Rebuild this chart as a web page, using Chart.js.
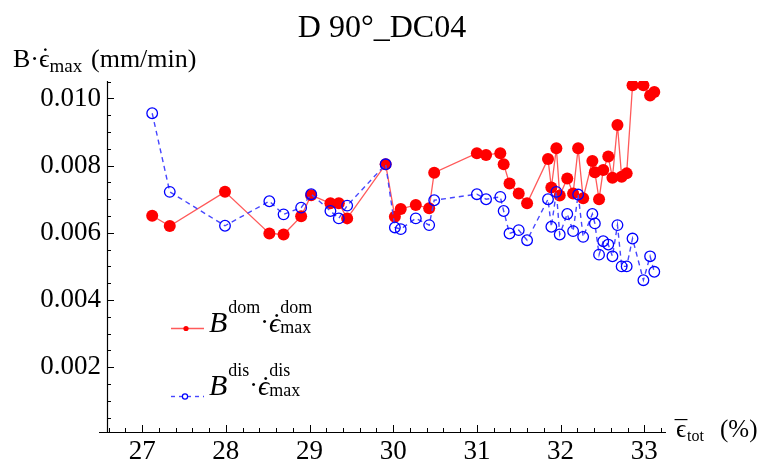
<!DOCTYPE html>
<html>
<head>
<meta charset="utf-8">
<script src="https://cdn.jsdelivr.net/npm/chart.js@4.4.1/dist/chart.umd.min.js"></script>
<style>
html,body{margin:0;padding:0;background:#fff;}
canvas{display:block;}
</style>
</head>
<body>
<canvas id="c" width="761" height="466"></canvas>
<script>
// ---- data ----
const strainValues = [27.12, 27.33, 27.99, 28.52, 28.69, 28.90, 29.02, 29.25, 29.35, 29.45,
  29.91, 30.02, 30.09, 30.27, 30.43, 30.49, 31.00, 31.11, 31.28, 31.32,
  31.39, 31.50, 31.60, 31.85, 31.89, 31.95, 31.99, 32.08, 32.15, 32.21,
  32.27, 32.38, 32.41, 32.46, 32.51, 32.57, 32.62, 32.68, 32.73, 32.79,
  32.86, 32.99, 33.07, 33.12];
const domValues = [0.00651, 0.00620, 0.00722, 0.00598, 0.00595, 0.00649, 0.00712, 0.00688, 0.00688, 0.00643,
  0.00804, 0.00648, 0.00671, 0.00683, 0.00673, 0.00779, 0.00837, 0.00832, 0.00837, 0.00804,
  0.00747, 0.00717, 0.00688, 0.00820, 0.00735, 0.00852, 0.00711, 0.00762, 0.00717, 0.00852,
  0.00703, 0.00814, 0.00780, 0.00700, 0.00787, 0.00827, 0.00764, 0.00921, 0.00767, 0.00777,
  0.01039, 0.01039, 0.01009, 0.01019];
const disValues = [0.00956, 0.00722, 0.00621, 0.00694, 0.00655, 0.00675, 0.00715, 0.00665, 0.00643, 0.00681,
  0.00804, 0.00616, 0.00611, 0.00643, 0.00623, 0.00697, 0.00715, 0.00700, 0.00707, 0.00665,
  0.00598, 0.00608, 0.00578, 0.00700, 0.00618, 0.00722, 0.00595, 0.00656, 0.00605, 0.00714,
  0.00588, 0.00656, 0.00628, 0.00535, 0.00575, 0.00565, 0.00530, 0.00623, 0.00500, 0.00500,
  0.00583, 0.00459, 0.00530, 0.00484];
const xTicks = [27, 28, 29, 30, 31, 32, 33];
const yTicks = [0.002, 0.004, 0.006, 0.008, 0.010];
const titleText = "D 90°_DC04";

const SERIF = "'Liberation Serif', 'DejaVu Serif', serif";

function pts(vals) { return strainValues.map((x, i) => ({ x: x, y: vals[i] })); }

function drawDotAbove(ctx, x, w, baseline, size, ch) {
  const f = ctx.font;
  ctx.font = size + "px " + SERIF;
  ctx.textAlign = "center";
  ctx.fillText(ch, x + w / 2 + 1, baseline);
  ctx.textAlign = "left";
  ctx.font = f;
}

const decorPlugin = {
  id: "decor",
  afterDraw(chart) {
    const ctx = chart.ctx;
    const a = chart.chartArea;
    const xs = chart.scales.x, ys = chart.scales.y;
    ctx.save();
    ctx.strokeStyle = "#000";
    ctx.fillStyle = "#000";
    // axes
    ctx.lineWidth = 1.2;
    ctx.beginPath();
    ctx.moveTo(a.left - 8, a.bottom + 0.5); ctx.lineTo(a.right, a.bottom + 0.5);
    ctx.moveTo(a.left + 0.5, a.top); ctx.lineTo(a.left + 0.5, a.bottom);
    ctx.stroke();
    // ticks
    ctx.lineWidth = 1;
    ctx.beginPath();
    for (let k = Math.ceil(xs.min * 5); k <= Math.floor(xs.max * 5); k++) {
      const v = k / 5;
      const px = Math.round(xs.getPixelForValue(v)) + 0.5;
      const len = (k % 5 === 0) ? 7 : 4;
      ctx.moveTo(px, a.bottom); ctx.lineTo(px, a.bottom - len);
    }
    for (let k = Math.ceil(ys.min / 0.0005); k <= Math.floor(ys.max / 0.0005 + 1e-9); k++) {
      const v = k * 0.0005;
      const py = Math.round(ys.getPixelForValue(v)) + 0.5;
      const len = (k % 4 === 0) ? 7 : 4;
      ctx.moveTo(a.left, py); ctx.lineTo(a.left + len, py);
    }
    ctx.stroke();

    ctx.textBaseline = "alphabetic";
    ctx.textAlign = "left";
    // title
    ctx.font = "32px " + SERIF;
    ctx.textAlign = "center";
    ctx.fillText(titleText, 382, 37);
    ctx.textAlign = "left";

    // y-axis label
    let x = 13, b = 67;
    ctx.font = "26px " + SERIF;
    ctx.fillText("B", x, b); x += ctx.measureText("B").width;
    ctx.fillText("\u00B7", x, b); x += ctx.measureText("\u00B7").width;
    ctx.fillText("\u03F5", x, b);
    let ew = ctx.measureText("\u03F5").width;
    drawDotAbove(ctx, x, ew, b - 2, 26, "\u02D9");
    x += ew;
    ctx.font = "19px " + SERIF;
    ctx.fillText("max", x, b + 5);
    ctx.font = "26px " + SERIF;
    ctx.fillText("(mm/min)", 91, b);

    // x-axis label
    x = 676; b = 437;
    ctx.font = "25px " + SERIF;
    ctx.fillText("\u03F5", x, b);
    ew = ctx.measureText("\u03F5").width;
    drawDotAbove(ctx, x - 1, ew, b + 1, 25, "\u00AF");
    x += ew + 1;
    ctx.font = "16px " + SERIF;
    ctx.fillText("tot", x, b + 4);
    ctx.font = "25px " + SERIF;
    ctx.fillText("(%)", 720, b);

    // legend
    function legendText(x, b, sup) {
      ctx.font = "italic 30px " + SERIF;
      ctx.fillText("B", x, b); x += ctx.measureText("B").width + 1;
      ctx.font = "18px " + SERIF;
      ctx.fillText(sup, x, b - 19); x += ctx.measureText(sup).width;
      ctx.font = "26px " + SERIF;
      ctx.fillText("\u00B7", x, b - 2); x += ctx.measureText("\u00B7").width;
      ctx.font = "italic 28px " + SERIF;
      ctx.fillText("\u03F5", x, b);
      const w = ctx.measureText("\u03F5").width;
      drawDotAbove(ctx, x + 1, w, b, 28, "\u02D9");
      x += w;
      ctx.font = "18px " + SERIF;
      ctx.fillText(sup, x, b - 19);
      ctx.fillText("max", x, b + 1);
    }
    // dom entry
    ctx.strokeStyle = "#ff5a5a"; ctx.lineWidth = 1.4; ctx.setLineDash([]);
    ctx.beginPath(); ctx.moveTo(171, 328.5); ctx.lineTo(204, 328.5); ctx.stroke();
    ctx.fillStyle = "#ff0000";
    ctx.beginPath(); ctx.arc(186, 328.5, 2.6, 0, Math.PI * 2); ctx.fill();
    ctx.fillStyle = "#000";
    legendText(209, 332, "dom");
    // dis entry
    ctx.strokeStyle = "#4646ff"; ctx.lineWidth = 1.4; ctx.setLineDash([4, 4]);
    ctx.beginPath(); ctx.moveTo(171, 396.5); ctx.lineTo(204, 396.5); ctx.stroke();
    ctx.setLineDash([]);
    ctx.strokeStyle = "#0000ff"; ctx.lineWidth = 1.2;
    ctx.beginPath(); ctx.arc(185, 396.5, 2.6, 0, Math.PI * 2); ctx.stroke();
    ctx.fillStyle = "#000";
    legendText(209, 395, "dis");
    ctx.restore();
  }
};

new Chart(document.getElementById("c"), {
  type: "scatter",
  data: {
    datasets: [
      {
        label: "dis",
        data: pts(disValues),
        showLine: true,
        borderColor: "#4646ff",
        borderWidth: 1.4,
        borderDash: [5, 4],
        pointRadius: 5.3,
        pointBackgroundColor: "rgba(0,0,0,0)",
        pointBorderColor: "#0000ff",
        pointBorderWidth: 1.3,
        order: 0
      },
      {
        label: "dom",
        data: pts(domValues),
        showLine: true,
        borderColor: "#ff5a5a",
        borderWidth: 1.3,
        pointRadius: 6,
        pointBackgroundColor: "#ff0000",
        pointBorderColor: "#ff0000",
        pointBorderWidth: 0,
        order: 1
      }
    ]
  },
  options: {
    responsive: false,
    devicePixelRatio: 1,
    animation: false,
    layout: { padding: { top: 81, right: 95, left: 0, bottom: 0 } },
    plugins: { legend: { display: false }, title: { display: false }, tooltip: { enabled: false } },
    scales: {
      x: {
        type: "linear",
        min: 26.58,
        max: 33.26,
        grid: { display: false, drawTicks: false },
        border: { display: false },
        ticks: { font: { family: SERIF, size: 27 }, color: "#000", padding: 4, maxRotation: 0, autoSkip: false },
        afterBuildTicks: s => { s.ticks = xTicks.map(v => ({ value: v })); },
        afterFit: s => { s.height = 34; }
      },
      y: {
        type: "linear",
        min: 0.00007,
        max: 0.01052,
        grid: { display: false, drawTicks: false },
        border: { display: false },
        ticks: { font: { family: SERIF, size: 27 }, color: "#000", padding: 6, callback: v => v.toFixed(3) },
        afterBuildTicks: s => { s.ticks = yTicks.map(v => ({ value: v })); },
        afterFit: s => { s.width = 107; }
      }
    }
  },
  plugins: [decorPlugin]
});
</script>
</body>
</html>
